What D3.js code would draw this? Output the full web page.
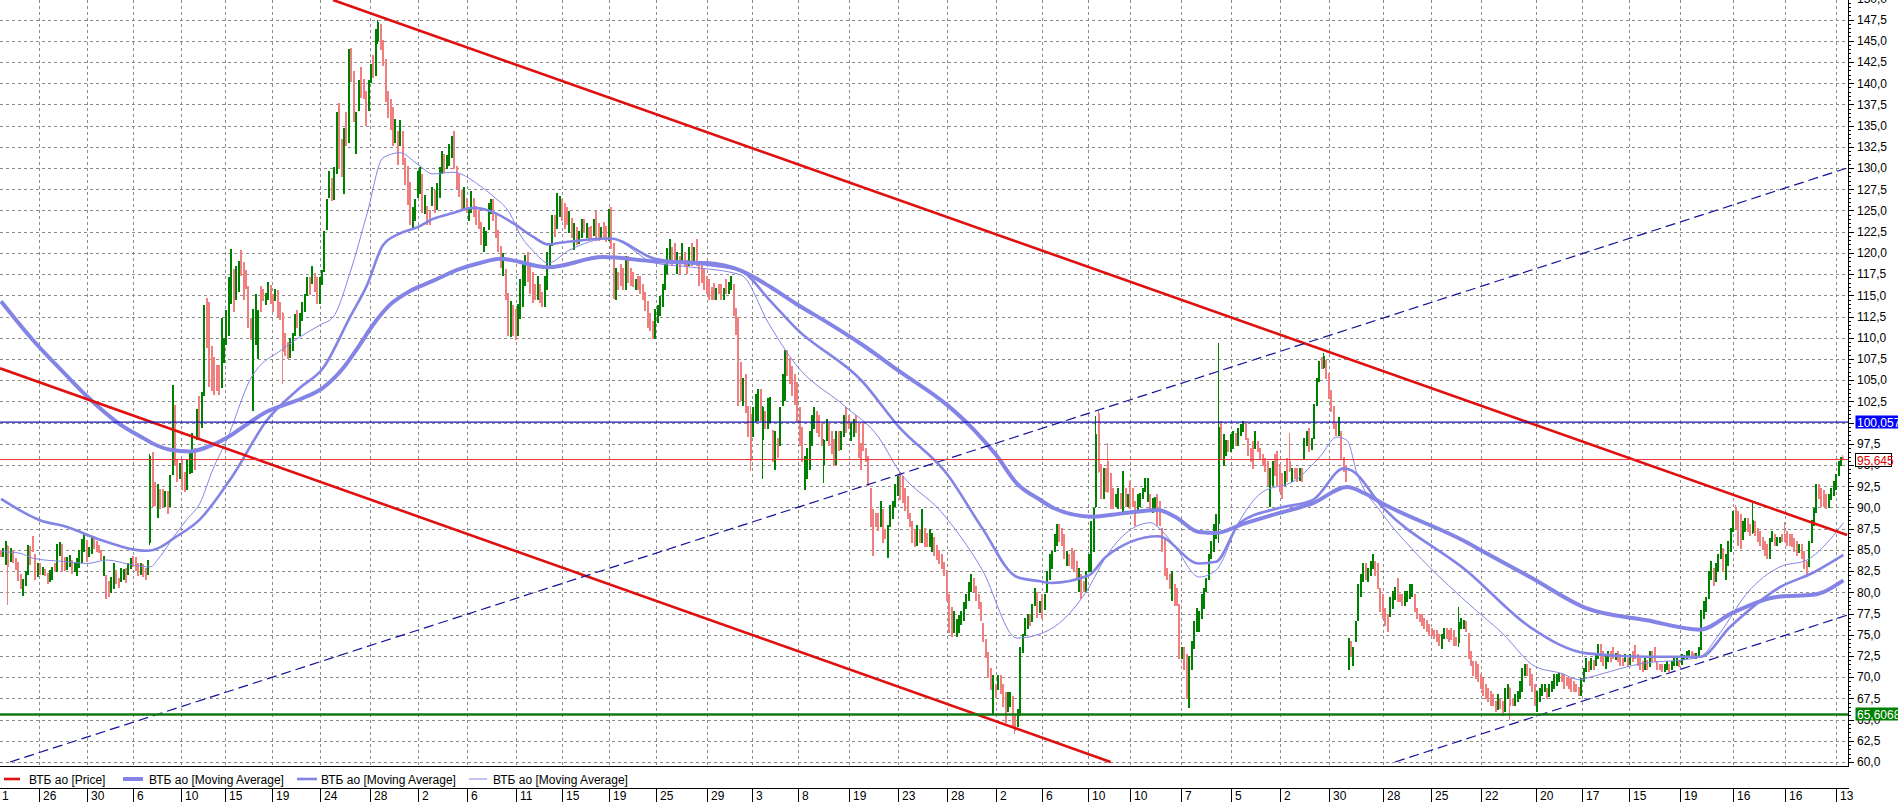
<!DOCTYPE html>
<html>
<head>
<meta charset="utf-8">
<script src="https://cdn.jsdelivr.net/npm/d3@7/dist/d3.min.js"></script>
<style>
  body { margin: 0; background: #fff; overflow: hidden; }
  svg { display: block; }
</style>
</head>
<body>
<svg id="chart" width="1898" height="802"></svg>
<script>
// candle opens / closes, one per bar
const opens = [
  85.0,84.1,83.2,85.4,83.6,85.0,84.0,83.6,82.2,79.6,
  80.8,82.0,85.5,86.6,84.5,81.8,83.4,82.0,82.7,82.3,
  81.2,81.5,83.5,82.4,84.3,85.7,84.2,82.6,83.0,83.8,
  82.4,81.9,82.9,83.4,84.7,86.2,84.2,84.5,86.6,86.1,
  85.6,85.0,81.9,82.0,81.3,79.9,80.4,82.6,81.7,81.2,
  81.4,82.9,82.0,82.8,84.3,84.1,83.5,82.0,83.3,82.9,
  82.0,85.8,96.5,93.0,88.7,92.2,92.2,90.0,91.9,90.0,
  93.8,102.1,95.6,93.3,95.6,94.2,92.0,93.9,94.0,97.0,
  98.0,103.1,99.4,103.1,114.7,114.2,109.0,107.7,106.8,106.8,
  104.1,107.0,109.2,110.2,114.0,118.1,114.4,115.4,120.3,118.9,
  118.0,116.1,112.3,101.4,109.2,107.5,116.1,115.7,113.9,114.4,
  116.2,115.2,114.3,115.6,114.2,112.9,110.5,109.5,107.6,108.4,
  110.2,113.3,110.2,112.0,113.0,114.9,117.2,116.3,117.6,117.1,
  114.0,116.2,117.7,122.7,126.5,128.8,126.2,129.3,137.7,133.4,
  126.9,136.6,132.9,144.1,141.4,131.7,136.7,141.9,140.5,139.1,
  136.7,140.0,143.3,140.9,145.0,147.0,145.1,142.8,139.1,138.1,
  137.2,132.9,134.4,132.6,134.4,131.2,130.2,128.3,122.8,123.7,
  126.5,126.9,129.3,124.6,125.5,125.0,125.5,127.4,125.0,126.5,
  129.3,131.6,129.9,130.2,131.2,134.4,130.2,129.3,127.4,125.1,
  126.5,123.7,124.7,126.5,125.5,125.0,123.6,120.1,120.8,122.7,
  124.6,126.4,124.6,122.7,120.8,117.3,118.1,115.3,110.1,113.9,
  113.4,110.2,112.2,113.6,116.1,120.1,118.8,117.8,116.3,114.5,
  116.3,115.4,113.6,115.6,118.4,120.8,124.5,122.8,124.2,126.4,
  125.9,125.4,122.3,124.1,120.3,123.1,121.0,121.8,124.0,121.8,
  123.1,123.2,122.0,124.9,123.5,121.7,123.6,123.2,121.4,125.4,
  121.2,114.5,117.8,118.7,118.2,115.6,119.6,118.2,117.8,115.6,
  117.3,117.3,116.3,115.4,114.3,112.9,112.0,109.9,111.7,112.6,
  113.6,115.6,117.5,118.9,120.7,121.2,117.5,119.6,118.9,120.1,
  119.2,118.4,121.2,118.9,121.6,118.7,118.6,118.2,117.3,116.9,
  116.0,116.4,114.5,116.3,116.3,114.5,116.9,115.1,115.6,116.3,
  113.5,112.5,107.1,102.0,105.7,101.9,101.0,98.3,100.1,100.2,
  103.9,98.0,101.4,99.3,100.0,99.1,94.4,98.2,97.2,101.9,
  102.5,108.6,107.6,106.7,105.7,104.8,101.8,99.5,92.0,93.4,
  94.4,97.2,99.2,101.4,100.9,100.0,95.0,97.8,100.0,99.0,
  98.1,95.0,99.0,96.8,98.3,101.8,100.9,97.8,98.3,100.9,
  99.9,97.6,100.0,97.0,96.1,92.3,89.8,89.4,89.4,87.7,
  89.8,87.5,84.0,87.7,88.6,90.0,91.4,94.2,93.7,92.3,
  91.4,89.4,88.4,87.5,85.4,87.5,85.8,87.6,87.0,85.3,
  84.7,86.5,85.6,85.0,84.5,83.6,82.6,79.8,78.3,75.2,
  74.7,75.2,76.1,76.6,78.0,79.0,80.0,81.7,80.8,79.8,
  78.8,76.4,74.5,73.0,71.1,65.5,69.2,68.5,70.2,69.2,
  68.3,65.9,66.5,67.8,65.5,64.1,65.4,72.9,74.8,75.7,
  77.5,76.5,78.4,80.0,77.6,79.8,77.9,79.9,81.5,82.7,
  84.7,85.4,88.1,87.6,86.9,83.1,84.5,85.2,84.9,83.7,
  80.0,82.2,81.3,80.0,82.4,82.4,84.7,90.0,101.1,95.1,
  91.0,94.7,95.5,94.0,92.3,90.0,89.8,91.7,89.4,92.3,
  90.1,93.1,92.3,90.8,89.4,90.1,91.0,91.8,90.6,91.6,
  89.4,89.8,91.6,90.8,87.6,86.4,82.9,82.2,79.0,81.0,
  80.5,78.6,72.1,73.5,72.7,66.4,70.9,73.3,75.3,75.3,
  76.8,78.0,80.0,81.5,83.9,84.7,86.3,88.0,100.2,94.9,
  96.1,97.9,96.5,96.9,98.8,97.2,98.4,98.9,99.9,98.2,
  97.0,97.8,96.9,97.8,97.0,96.3,95.8,95.5,90.1,92.5,
  96.3,96.7,95.1,94.0,92.5,95.8,95.5,93.0,94.7,94.7,
  93.1,94.7,95.7,97.2,99.4,96.8,98.1,102.0,104.8,107.7,
  106.4,107.4,105.8,103.8,101.9,99.9,98.4,99.0,95.9,95.0,
  70.9,74.3,71.3,74.1,76.6,79.5,81.2,83.4,81.2,81.9,
  82.7,83.7,83.4,80.5,79.8,78.2,77.5,77.1,78.0,79.1,
  81.7,79.8,79.8,78.4,78.8,79.2,79.5,79.8,78.2,77.5,
  77.5,77.0,76.7,76.3,75.8,75.6,75.5,75.1,73.3,74.5,
  75.8,75.5,75.8,75.5,74.7,74.0,75.7,75.7,76.6,75.2,
  73.1,71.9,71.9,71.6,70.4,69.9,69.2,68.7,68.4,68.0,
  67.2,66.1,67.6,67.2,65.9,67.4,68.7,67.6,66.6,67.1,
  67.4,68.2,70.1,71.6,71.1,70.4,69.2,65.9,67.1,67.8,
  68.2,68.7,67.7,68.2,68.6,68.9,69.4,70.5,70.4,70.0,
  69.9,69.9,69.6,69.2,68.8,67.8,69.4,70.6,71.9,70.9,
  72.0,71.3,72.1,73.9,73.1,71.0,71.8,73.1,73.5,72.0,
  73.1,72.7,72.3,71.8,72.3,71.4,73.1,73.8,72.7,72.3,
  71.9,70.9,72.0,71.2,73.1,73.5,71.9,71.6,71.6,70.6,
  70.9,71.6,70.8,71.3,71.3,72.0,71.4,72.0,72.1,72.5,
  73.1,72.8,72.1,72.5,73.2,76.8,77.7,79.2,81.5,82.9,
  81.2,82.4,83.9,85.2,81.5,83.1,84.7,87.1,90.0,89.6,
  89.2,86.2,87.1,88.8,88.1,87.0,88.4,87.6,87.2,86.5,
  86.1,85.7,83.9,85.9,86.9,85.4,85.8,86.9,86.8,87.2,
  86.9,86.9,86.4,86.1,84.6,85.7,84.9,83.7,83.0,85.8,
  87.8,89.4,92.8,92.3,92.0,91.6,89.9,90.9,91.3,92.1,
  93.7,94.9,96.0
];
const closes = [
  84.2,85.2,86.1,83.0,85.2,83.4,82.6,81.3,80.4,81.6,
  82.5,85.6,83.2,84.8,81.4,83.5,82.0,83.0,81.9,81.0,
  82.6,83.0,82.4,85.7,85.9,82.4,82.5,84.2,84.4,82.1,
  83.5,84.0,85.0,86.3,86.9,83.6,85.3,86.6,85.1,84.7,
  84.6,83.8,84.3,79.2,79.4,81.8,83.4,81.0,80.5,82.9,
  82.8,81.1,83.5,84.0,83.0,82.5,81.9,83.4,81.8,81.5,
  83.8,96.1,90.1,90.2,92.8,89.8,90.0,91.9,89.2,93.8,
  104.4,94.9,93.0,95.2,92.0,91.8,95.6,96.5,98.8,94.4,
  101.6,98.0,103.6,113.8,108.8,104.2,103.7,103.2,103.7,103.2,
  112.3,110.0,113.3,117.1,120.5,113.0,118.5,119.0,117.3,114.4,
  115.8,111.1,109.7,113.4,115.2,113.3,113.0,114.3,115.3,116.6,
  114.0,113.0,115.7,112.5,112.1,108.3,107.9,107.5,110.0,110.5,
  112.8,111.1,112.9,114.2,115.2,117.1,115.0,118.5,115.4,114.0,
  117.1,118.0,122.6,126.4,129.7,126.1,130.1,136.6,129.9,128.9,
  134.7,132.6,144.0,140.1,135.4,136.6,140.4,138.2,138.1,134.9,
  140.4,142.3,140.6,146.4,147.2,143.9,142.0,137.8,135.9,134.5,
  132.6,135.8,130.3,135.7,130.3,128.0,125.6,123.3,125.4,126.4,
  129.7,130.1,124.7,126.8,123.3,123.3,127.8,124.7,128.2,130.1,
  132.0,129.4,131.5,132.8,133.8,129.9,127.5,126.6,125.1,127.8,
  124.7,125.4,127.3,124.2,123.3,122.8,120.9,123.1,122.6,125.9,
  126.4,123.7,121.8,120.1,118.2,120.0,114.4,110.2,114.3,110.2,
  109.7,114.0,116.9,118.8,119.7,116.6,115.1,114.1,114.5,117.3,
  114.1,113.6,117.3,120.1,121.2,124.5,121.9,127.0,126.7,123.7,
  122.8,123.3,124.9,121.8,123.5,120.9,122.6,124.0,122.3,123.5,
  121.4,121.8,124.0,121.4,121.4,123.1,121.8,121.3,125.2,120.4,
  114.6,118.2,115.6,116.1,115.6,119.6,116.5,116.1,116.0,116.9,
  115.6,115.1,114.5,113.1,111.2,110.8,109.8,113.4,113.9,114.9,
  116.3,118.7,120.6,121.6,118.4,118.9,120.1,117.5,121.2,118.4,
  117.5,120.7,118.4,120.7,118.4,116.1,116.5,115.6,115.1,114.5,
  114.5,114.5,115.9,115.1,114.5,115.9,115.1,116.6,117.3,112.6,
  110.3,102.0,102.5,105.2,101.1,98.3,95.5,101.8,103.4,103.9,
  100.2,101.8,99.2,102.9,103.0,95.3,99.0,95.8,101.8,105.7,
  108.6,105.5,104.5,103.1,102.1,100.1,97.2,95.3,96.1,97.0,
  99.0,100.9,101.8,98.8,98.3,97.2,98.0,100.4,97.2,96.3,
  94.9,99.0,96.7,99.0,100.9,98.8,99.2,100.0,100.4,98.8,
  95.8,94.4,96.7,95.3,92.5,87.7,84.3,87.7,87.2,90.7,
  85.8,86.3,87.9,90.3,90.8,92.8,93.7,90.9,90.5,89.6,
  88.6,87.7,85.8,85.3,87.9,85.8,89.8,85.3,85.3,87.5,
  87.0,84.3,83.8,83.3,82.8,81.9,79.0,75.2,74.7,77.8,
  76.9,77.3,77.8,78.8,79.8,81.2,82.2,80.0,79.0,78.0,
  76.6,74.2,72.2,69.9,68.5,70.2,67.5,70.2,68.0,66.5,
  64.6,68.3,68.3,64.2,63.6,66.3,73.5,75.1,77.0,77.5,
  76.0,78.6,80.5,77.0,79.0,76.8,79.8,82.5,84.5,84.9,
  86.9,88.1,85.9,85.4,83.9,84.9,83.1,82.7,82.4,81.5,
  82.9,79.2,80.0,82.5,84.5,88.4,89.9,98.7,94.2,91.0,
  94.7,91.8,91.8,89.8,89.8,91.6,92.3,89.8,94.3,90.1,
  91.6,89.8,90.1,87.8,91.6,91.7,92.3,93.5,93.5,89.8,
  91.1,91.2,87.8,87.8,84.7,81.9,81.5,80.4,82.5,78.4,
  78.4,72.1,73.5,70.9,67.4,72.5,74.3,76.6,78.2,77.8,
  79.8,80.5,81.7,84.5,86.1,88.1,89.2,99.5,95.7,98.7,
  97.9,96.5,98.7,99.0,97.2,99.4,99.8,100.2,98.0,96.1,
  95.3,94.5,99.0,96.5,95.6,94.9,94.2,92.5,94.7,95.5,
  93.7,92.5,91.8,91.0,94.3,93.0,94.3,94.7,93.3,93.0,
  94.7,93.0,98.2,99.0,96.5,98.2,102.2,105.3,107.3,106.3,
  107.9,105.1,102.8,101.2,99.2,98.4,100.6,95.7,94.2,93.0,
  74.6,72.5,73.5,76.6,81.0,82.2,83.4,81.5,82.9,83.7,
  84.5,81.9,80.4,77.7,76.8,76.0,75.3,79.4,80.2,80.6,
  78.8,78.8,78.4,80.2,80.2,81.0,81.0,77.7,76.8,76.5,
  76.0,75.7,75.3,74.8,74.8,74.5,74.1,73.7,75.1,75.8,
  74.5,74.1,74.4,73.7,73.7,76.5,77.0,76.7,75.3,72.1,
  71.3,70.1,69.8,69.4,68.6,67.8,67.4,67.1,66.6,66.6,
  65.9,68.0,66.2,65.4,68.7,69.2,66.6,66.6,68.0,68.4,
  69.6,71.1,71.6,70.1,68.9,68.2,66.6,68.4,68.7,69.2,
  69.2,67.4,69.2,69.6,70.4,70.4,70.5,69.4,68.6,68.9,
  68.6,68.2,68.2,68.2,67.8,69.9,71.1,72.3,70.6,72.3,
  70.9,72.7,73.9,71.8,71.3,72.7,73.1,71.8,72.1,72.8,
  71.8,71.3,71.3,72.7,71.3,72.7,71.8,72.1,71.3,70.9,
  70.6,72.3,70.9,73.1,71.8,71.8,70.9,70.9,70.6,71.6,
  71.9,70.6,71.9,72.3,72.4,71.2,72.7,72.6,73.1,73.2,
  72.1,72.1,72.8,73.5,77.9,79.0,79.4,82.5,83.7,80.7,
  83.4,84.5,85.7,82.4,84.5,86.1,87.6,89.6,87.4,85.4,
  85.1,88.4,88.8,87.1,86.6,88.5,86.6,85.9,85.4,85.0,
  84.3,83.9,86.4,87.2,85.4,86.5,86.5,85.9,86.0,85.4,
  85.4,85.3,84.7,84.3,85.7,83.9,82.7,82.0,86.1,88.5,
  89.9,92.8,91.0,90.1,90.1,89.8,91.6,92.3,93.1,93.9,
  95.5,95.9,95.645
];
// bars whose shadows reach past the body: [bar, high, low]
const wicks = [
  [3,85.6,78.5],[61,96.3,85.6],[115,113.0,104.5],[154,147.4,144.6],[306,102.0,94.3],
  [311,101.9,93.3],[336,98.1,92.9],[414,65.6,63.3],[447,100.8,89.9],[448,101.5,94.1],
  [452,97.6,91.7],[497,109.4,85.8],[526,98.8,94.2],[540,108.2,106.3],[595,78.3,73.6],
  [616,68.8,65.0],[708,90.3,87.3],[715,90.5,86.9],[728,88.3,85.9],[752,96.2,95.6]
];

// moving averages: [bar, value]
const maSlow = [
  [0,114.3],[13.1,109.7],[26.9,105.5],[35.1,103.1],[40.4,101.7],[48.6,99.8],[56.7,98.4],[63.7,97.3],
  [69,96.8],[77.1,96.6],[84.1,97.1],[92.2,98.2],[100.4,99.8],[108.6,101.3],[116.7,102.2],[123.3,102.9],
  [131.4,104.1],[139.6,106.4],[146.5,109.2],[151.8,111.5],[158.8,113.9],[166.9,115.5],[176.3,116.7],
  [187.3,118.1],[195.5,118.8],[203.7,119.3],[223.3,118.3],[245.7,119.5],[266.9,119.0],[288.2,118.8],
  [302,117.9],[313.9,116.0],[324.5,114.0],[338.4,111.6],[351.4,109.2],[366.9,106.0],[386.5,102.0],
  [397.6,99.0],[406.1,96.2],[414.7,92.8],[424.1,90.9],[429.8,89.9],[445.3,88.9],[457.9,89.3],
  [472.2,89.7],[479.2,88.9],[489,87.1],[495.9,87.0],[507.3,88.1],[521.2,89.3],[535.5,90.5],
  [549.4,92.4],[556.3,91.7],[563.7,90.5],[598.8,85.8],[603.7,85.0],[624.1,81.8],[647.3,78.1],
  [671.8,76.7],[693.5,75.6],[706.9,77.6],[726.1,79.5],[739.6,79.7],[752,81.4]
];
const maMid = [
  [0,91.0],[15.9,88.5],[26.9,87.7],[40.4,86.2],[59.6,84.9],[64.9,85.3],[70.2,86.3],[81.2,88.6],
  [94.7,93.8],[108.6,100.3],[122,104.1],[131.4,106.4],[142.4,112.4],[149.4,116.2],[155.9,120.9],
  [162.9,122.3],[169.8,123.0],[176.3,124.0],[184.5,124.7],[192.7,125.3],[200.8,124.8],[209,123.5],
  [217.1,121.9],[223.3,121.0],[228.2,121.2],[248.6,121.7],[266.9,119.3],[288.2,118.6],[302,117.9],
  [313.5,114.5],[324.5,111.1],[351.4,104.9],[366.5,99.5],[386.5,93.8],[400.4,87.6],[414.7,81.8],
  [424.1,81.3],[428.6,81.1],[444.1,82.0],[451,84.2],[472.2,86.6],[489,83.4],[495.9,83.6],
  [505.7,88.2],[521.2,89.9],[535.5,90.9],[548.2,94.6],[551,94.4],[563.7,90.1],[598.8,82.4],
  [624.1,75.9],[647.3,72.8],[671.8,72.4],[693.5,72.4],[705.7,75.9],[726.1,80.6],[739.6,82.3],[752,84.4]
];
const maFast = [
  [0,84.8],[7.8,84.6],[13.1,84.0],[26.9,83.6],[35.1,83.4],[43.3,83.8],[53.9,83.2],[60.8,83.0],
  [64.9,84.2],[70.2,86.4],[75.9,88.6],[81.2,90.5],[86.5,94.5],[92.2,98.0],[101.6,105.0],[115.1,108.7],
  [130.2,111.5],[135.5,112.4],[142.4,117.6],[149.4,124.6],[155.9,131.2],[162.9,131.8],[169.8,130.5],
  [176.3,129.3],[184.5,129.5],[195.5,127.9],[200.8,126.7],[207.8,124.6],[211.8,122.2],[218,120.0],
  [223.3,118.8],[231.8,120.3],[248.6,121.7],[266.9,118.8],[282.4,118.3],[302,117.4],[313.5,111.6],
  [324.5,106.8],[344.1,102.0],[358.4,98.2],[366.5,94.3],[383.7,89.5],[400.4,82.7],[414.7,74.6],
  [424.1,75.1],[429.8,75.9],[444.1,80.6],[451,84.2],[469.4,88.2],[472.2,87.7],[479.2,85.4],
  [489,81.8],[495.9,82.6],[505.7,88.5],[514.3,91.7],[528.2,93.2],[538.4,96.0],[545.3,98.3],
  [549.4,97.9],[553.5,94.0],[563.7,89.3],[577.6,84.6],[598.8,78.7],[612.7,75.2],[626.5,71.2],
  [636.3,70.5],[644.5,69.7],[648.6,70.0],[671.8,71.7],[685.3,72.0],[693.5,72.4],[701.6,75.2],
  [712.7,79.9],[726.1,83.0],[737.1,83.8],[746.5,86.2],[752,88.2]
];

// trend lines drawn on the chart: two points [bar, price]
const redUpper = [[135.5,149.8],[753.5,86.75]];
const redLower = [[-0.4,106.4],[452.9,60.0]];
const dashUpper = [[3.7,60.0],[753.5,130.0]];
const dashLower = [[569,60.0],[753.5,77.3]];

// horizontal levels and their price tags
const levelValues = [100.057, 95.645, 65.6068];
const levelLabels = ["100,0570", "95,645", "65,60682"];

// time axis
const tickBars = [-1.2,15.5,35,54,73.5,91.5,110.5,130,150.5,170,190,210,229,248,267.5,288,306.5,325.5,
  346,366,386,406,425,443.5,461,481.5,502,522,542,564,583.5,604,626.5,645.5,664.5,685.5,707,728,749];
const tickLabels = ["1","26","30","6","10","15","19","24","28","2","6","11","15","19","25","29","3","8",
  "19","23","28","2","6","10","10","7","5","2","30","28","25","22","20","17","15","19","16","16","13"];

const legendNames = ["ВТБ ао [Price]", "ВТБ ао [Moving Average]", "ВТБ ао [Moving Average]", "ВТБ ао [Moving Average]"];

const FONT = "'Liberation Sans', Arial, sans-serif";
const plotR = 1848, plotB = 766;
const UP = "#008000", DOWN = "#f08080", MA = "#8484e6";

const svg = d3.select("#chart");
const n = Math.min(opens.length, closes.length);
const x = d3.scaleLinear().domain([0, 752]).range([1, 1843.4]);
const y = d3.scaleLinear().domain([60, 149.8]).range([762, 0]);
const fmt = v => d3.format(".1f")(v).replace(".", ",");

svg.append("rect").attr("width", 1898).attr("height", 802).attr("fill", "#fff");
svg.append("defs").append("clipPath").attr("id", "plotclip")
  .append("rect").attr("width", plotR).attr("height", plotB);

// grid
const grid = svg.append("g").attr("stroke", "#8c8c8c").attr("stroke-dasharray", "3,3");
grid.selectAll("line.h").data(d3.range(60, 150, 2.5)).join("line")
  .attr("x1", 0).attr("x2", plotR)
  .attr("y1", d => Math.round(y(d)) + 0.5).attr("y2", d => Math.round(y(d)) + 0.5);
grid.selectAll("line.v").data(tickBars.filter(d => d >= 0)).join("line")
  .attr("y1", 0).attr("y2", plotB)
  .attr("x1", d => Math.round(x(d)) + 0.5).attr("x2", d => Math.round(x(d)) + 0.5);

const plot = svg.append("g").attr("clip-path", "url(#plotclip)");

// candles
const cg = plot.append("g").attr("shape-rendering", "crispEdges");
cg.selectAll("line").data(wicks).join("line")
  .attr("x1", d => Math.round(x(d[0])) - 0.5).attr("x2", d => Math.round(x(d[0])) - 0.5)
  .attr("y1", d => y(d[1])).attr("y2", d => y(d[2]))
  .attr("stroke", d => closes[d[0]] >= opens[d[0]] ? UP : DOWN).attr("stroke-width", 1);
cg.selectAll("rect").data(d3.range(n)).join("rect")
  .attr("x", i => Math.round(x(i)) - 1)
  .attr("width", 2)
  .attr("y", i => y(Math.max(opens[i], closes[i])))
  .attr("height", i => Math.max(1, Math.abs(y(opens[i]) - y(closes[i]))))
  .attr("fill", i => closes[i] >= opens[i] ? UP : DOWN);

// moving averages
const maLine = d3.line().x(d => x(d[0])).y(d => y(d[1])).curve(d3.curveMonotoneX);
[[maSlow, 4], [maMid, 2.6], [maFast, 1]].forEach(([data, w]) => {
  plot.append("path").attr("d", maLine(data)).attr("fill", "none")
    .attr("stroke", MA).attr("stroke-width", w).attr("stroke-linejoin", "round");
});

// trend lines
const seg = d3.line().x(d => x(d[0])).y(d => y(d[1]));
[redUpper, redLower].forEach(l => plot.append("path").attr("d", seg(l))
  .attr("stroke", "#e01010").attr("stroke-width", 2.6).attr("fill", "none"));
[dashUpper, dashLower].forEach(l => plot.append("path").attr("d", seg(l))
  .attr("stroke", "#12129a").attr("stroke-width", 1.2).attr("stroke-dasharray", "10,5").attr("fill", "none"));

// horizontal levels
const levelStroke = ["#1414b4", "#f03030", "#107a10"];
const levelWidth = [1.2, 1, 2.5];
levelValues.forEach((v, k) => {
  plot.append("line").attr("x1", 0).attr("x2", plotR)
    .attr("y1", y(v)).attr("y2", y(v))
    .attr("stroke", levelStroke[k]).attr("stroke-width", levelWidth[k]);
});

// right axis
const axisG = svg.append("g").attr("transform", `translate(${plotR},0)`)
  .call(d3.axisRight(y).tickValues(d3.range(60, 150.1, 2.5)).tickFormat(fmt).tickSize(6).tickPadding(3).tickSizeOuter(0));
axisG.select(".domain").remove();
axisG.attr("font-family", FONT).attr("font-size", 12);
axisG.selectAll("line").attr("stroke", "#000").attr("shape-rendering", "crispEdges");
axisG.selectAll("text").attr("fill", "#000");
svg.append("g").attr("stroke", "#000").attr("shape-rendering", "crispEdges")
  .selectAll("line").data(d3.range(60, 150, 0.5)).join("line")
  .attr("x1", plotR).attr("x2", plotR + 3)
  .attr("y1", d => Math.round(y(d)) + 0.5).attr("y2", d => Math.round(y(d)) + 0.5);
svg.append("line").attr("x1", plotR + 0.5).attr("x2", plotR + 0.5).attr("y1", 0).attr("y2", plotB)
  .attr("stroke", "#000");

// price tags
const tagFill = ["#0000ff", "#ffffff", "#008000"];
const tagText = ["#ffffff", "#e00000", "#ffffff"];
levelValues.forEach((v, k) => {
  const yy = Math.round(y(v));
  svg.append("rect").attr("x", 1855.5).attr("y", yy - 6.5).attr("width", k === 1 ? 36 : 50).attr("height", 13)
    .attr("fill", tagFill[k]).attr("stroke", k === 1 ? "#000" : "none");
  svg.append("text").attr("x", 1857).attr("y", yy + 4.5).text(levelLabels[k])
    .attr("fill", tagText[k]).attr("font-family", FONT).attr("font-size", 12);
});

// bottom frame
svg.append("g").attr("stroke", "#000")
  .selectAll("line").data([plotB + 0.5, 788.5]).join("line")
  .attr("x1", 0).attr("x2", plotR + 1).attr("y1", d => d).attr("y2", d => d);

// legend
const legendX = [4, 123, 297, 469];
const legendLen = [16, 20, 20, 18];
const legendW = [2.6, 4, 2.6, 1];
const legendCol = ["#e01010", MA, MA, MA];
const legendTextX = [29, 149, 321, 493];
legendNames.forEach((name, k) => {
  svg.append("line").attr("x1", legendX[k]).attr("x2", legendX[k] + legendLen[k])
    .attr("y1", 779).attr("y2", 779).attr("stroke", legendCol[k]).attr("stroke-width", legendW[k]);
  svg.append("text").attr("x", legendTextX[k]).attr("y", 783.5).text(name)
    .attr("font-family", FONT).attr("font-size", 12).attr("fill", "#000");
});

// time axis labels
const xt = svg.append("g");
xt.selectAll("line").data(tickBars).join("line")
  .attr("x1", d => Math.round(x(d)) + 0.5).attr("x2", d => Math.round(x(d)) + 0.5)
  .attr("y1", 788).attr("y2", 802).attr("stroke", "#000");
xt.selectAll("text").data(tickBars).join("text")
  .attr("x", d => Math.round(x(d)) + 4).attr("y", 800)
  .text((d, k) => tickLabels[k])
  .attr("font-family", FONT).attr("font-size", 12).attr("fill", "#000");
</script>
</body>
</html>
